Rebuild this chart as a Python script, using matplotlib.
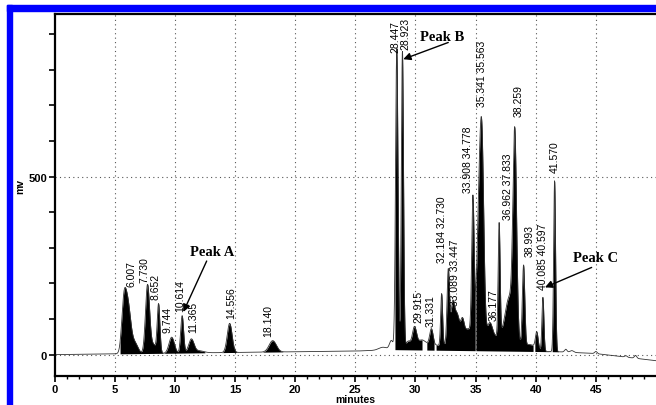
import numpy as np
import matplotlib
matplotlib.use("Agg")
import matplotlib.pyplot as plt
from matplotlib.patches import Rectangle

# peak table: retention time (min), height above baseline (mv), width (min)
peak_rt = [5.75, 6.08, 6.70, 7.73, 8.20, 8.65, 9.74, 10.61, 11.37, 12.0,
           14.56, 18.14, 27.3, 28.0, 28.45, 28.92, 29.4, 29.92, 30.5, 31.33,
           32.18, 32.73, 33.09, 33.45, 33.91, 34.40, 34.78, 35.34, 35.56, 36.18,
           36.96, 37.83, 38.26, 38.99, 40.09, 40.60, 41.57,
           31.0, 34.0, 37.0, 39.6,
           42.5, 43.0, 45.0, 47.5, 48.3]
peak_h = [110, 140, 28, 190, 25, 135, 45, 105, 38, 6,
          82, 32, 8, 25, 845, 835, 20, 55, 15, 45,
          145, 205, 100, 70, 45, 25, 385, 420, 345, 45,
          315, 120, 550, 225, 45, 150, 480,
          15, 35, 40, 15,
          8, 5, 6, 4, 8]
peak_w = [0.18, 0.25, 0.25, 0.17, 0.25, 0.11, 0.22, 0.12, 0.22, 0.4,
          0.2, 0.3, 0.35, 0.15, 0.1, 0.09, 0.2, 0.17, 0.3, 0.14,
          0.08, 0.1, 0.15, 0.2, 0.14, 0.3, 0.1, 0.2, 0.15, 0.22,
          0.08, 0.35, 0.15, 0.1, 0.11, 0.08, 0.08,
          1.0, 1.0, 1.2, 0.5,
          0.1, 0.15, 0.1, 0.1, 0.1]

# drifting baseline
base_t = [0, 12, 25, 28.3, 42, 45, 50]
base_v = [0, 5, 10, 14, 8, 3, -17]

# integrated (filled) stretches
fill_ranges = [(5.45, 12.5), (13.9, 15.3), (17.3, 19.0), (28.3, 30.55),
               (30.95, 31.55), (31.72, 34.97), (35.03, 39.78), (39.93, 41.27),
               (41.37, 42.2)]

# peak labels, where they sit (min) and the level their foot starts at (mv)
label_txt = ["6.007", "7.730", "8.652", "9.744", "10.614", "11.365", "14.556", "18.140",
             "28.447", "28.923", "29.915", "31.331", "32.184 32.730", "33.089 33.447",
             "33.908 34.778", "35.341 35.563", "36.177", "36.962 37.833", "38.259",
             "38.993", "40.085 40.597", "41.570"]
label_x = [6.36, 7.44, 8.41, 9.43, 10.43, 11.49, 14.65, 17.77,
           28.36, 29.17, 30.24, 31.27, 32.19, 33.29,
           34.37, 35.51, 36.48, 37.72, 38.55,
           39.47, 40.63, 41.6]
label_y = [193, 204, 157, 64, 124, 64, 103, 53,
           851, 859, 92, 81, 260, 139,
           457, 698, 96, 381, 671,
           278, 185, 513]

# callouts: text, text position, arrow tip
call_txt = ["Peak A", "Peak B", "Peak C"]
call_xy = [(13.1, 290), (32.2, 893), (45.0, 273)]
call_tip = [(10.71, 120), (28.99, 830), (40.77, 189)]
call_from = [(12.65, 263), (32.73, 877), (44.65, 245)]

t = np.linspace(0, 50, 5001)
base = np.interp(t, base_t, base_v)
sig = base.copy()
for rt, h, w in zip(peak_rt, peak_h, peak_w):
    sig += h * np.exp(-0.5 * ((t - rt) / w) ** 2)

fig = plt.figure(figsize=(6.56, 4.06), dpi=100)
ax = fig.add_axes([54.5 / 656, 29 / 406, 601.5 / 656, 362 / 406])

for a, b in fill_ranges:
    m = (t >= a) & (t <= b)
    ax.fill_between(t[m], base[m], sig[m], color="black", lw=0)
ax.plot(t, sig, color="#333333", lw=0.6)

ax.set_xlim(0, 50)
ax.set_ylim(-60, 957)
ax.set_xticks(range(0, 50, 5))
ax.set_xticks(range(0, 50), minor=True)
ax.set_yticks(range(0, 1000, 100))
ax.set_yticklabels(["0" if v == 0 else "500" if v == 500 else "" for v in range(0, 1000, 100)])
for lab in ax.get_xticklabels() + ax.get_yticklabels():
    lab.set_fontweight("bold")
    lab.set_fontsize(8)
    lab.set_family("Liberation Sans")
ax.tick_params(axis="both", which="major", length=4, width=1.2, pad=1.5)
ax.tick_params(axis="x", which="minor", length=2.5, width=1)
ax.spines["right"].set_visible(False)
for s in ["left", "top", "bottom"]:
    ax.spines[s].set_linewidth(1.6)

for v in range(5, 50, 5):
    ax.axvline(v, color="#555555", ls=(0, (1, 3)), lw=0.8, zorder=0)
for v in [0, 500]:
    ax.axhline(v, color="#555555", ls=(0, (1, 3)), lw=0.8, zorder=0)

for txt, x, y in zip(label_txt, label_x, label_y):
    ax.text(x, y, txt, rotation=90, ha="center", va="bottom", fontsize=7.5,
            family="Liberation Sans")

for txt, xy, tip, src in zip(call_txt, call_xy, call_tip, call_from):
    ax.text(xy[0], xy[1], txt, ha="center", va="center", fontsize=10.5,
            fontweight="bold", family="Liberation Serif")
    ax.annotate("", xy=tip, xytext=src,
                arrowprops=dict(arrowstyle="-|>", color="black", lw=1,
                                mutation_scale=11, shrinkA=0, shrinkB=0))

fig.text(355 / 656, 1 - 403 / 406, "minutes", ha="center", va="baseline",
         fontsize=7.5, fontweight="bold", family="Liberation Sans")
fig.text(20 / 656, 1 - 187 / 406, "mv", ha="center", va="center", rotation=90,
         fontsize=7.5, fontweight="bold", family="Liberation Sans")

# blue frame on the top and left edges
fig.patches.append(Rectangle((7 / 656, 0), 5 / 656, 400 / 406, transform=fig.transFigure,
                             color="#0000ff", zorder=5))
fig.patches.append(Rectangle((7 / 656, 1 - 12 / 406), 649 / 656, 6 / 406,
                             transform=fig.transFigure, color="#0000ff", zorder=5))

fig.savefig("out.png", dpi=100)
plt.close()
